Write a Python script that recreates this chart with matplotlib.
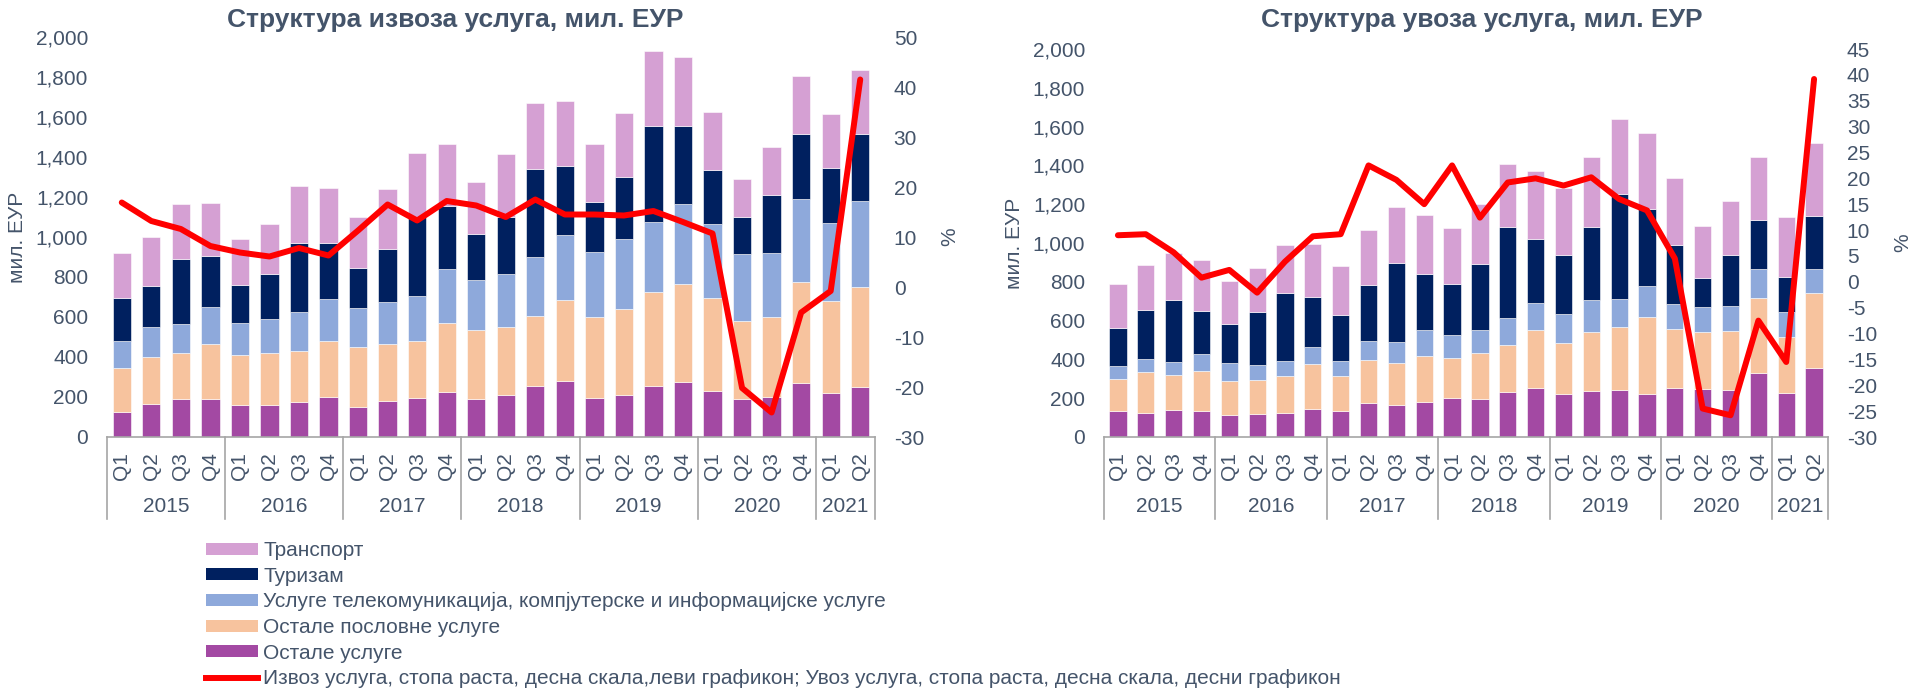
import matplotlib
matplotlib.use("Agg")
import matplotlib.pyplot as plt
from matplotlib.patches import Patch
from matplotlib.lines import Line2D
import matplotlib.transforms as mtransforms
import numpy as np

plt.rcParams['font.family'] = ['Liberation Sans', 'DejaVu Sans']

# ---------------- data ----------------
quarters = ['Q1', 'Q2', 'Q3', 'Q4'] * 6 + ['Q1', 'Q2']
years = ['2015', '2016', '2017', '2018', '2019', '2020', '2021']
year_counts = [4, 4, 4, 4, 4, 4, 2]

series_names = ['Транспорт', 'Туризам',
                'Услуге телекомуникација, компјутерске и информацијске услуге',
                'Остале пословне услуге', 'Остале услуге']
line_name = ('Извоз услуга, стопа раста, десна скала,леви графикон; '
             'Увоз услуга, стопа раста, десна скала, десни графикон')

# Export (left chart), mil. EUR
exp_other = [123, 163, 188, 192, 160, 160, 177, 198, 150, 180, 195, 225, 191,
             212, 253, 278, 195, 212, 257, 275, 228, 190, 198, 268, 218, 252]
exp_business = [222, 239, 232, 271, 252, 258, 251, 280, 298, 283, 285, 347, 342,
                338, 352, 407, 405, 430, 468, 490, 469, 388, 400, 505, 460, 496]
exp_ict = [135, 146, 145, 185, 160, 170, 199, 212, 197, 214, 223, 266, 253,
           263, 295, 325, 325, 350, 352, 398, 370, 335, 320, 415, 392, 434]
exp_tourism = [217, 205, 323, 257, 186, 225, 341, 278, 202, 261, 397, 317, 227,
               287, 438, 345, 252, 308, 480, 392, 270, 185, 294, 327, 277, 333]
exp_transport = [225, 245, 275, 267, 230, 250, 285, 279, 255, 300, 320, 308, 264,
                 313, 334, 323, 286, 320, 371, 345, 286, 194, 236, 288, 266, 318]
exp_growth = [16.9, 13.2, 11.6, 8.2, 6.9, 6.1, 7.8, 6.3, 11.3, 16.5, 13.3, 17.2, 16.3,
              14.0, 17.5, 14.5, 14.5, 14.3, 15.2, 13.0, 10.7, -20.2, -25.1, -5.1, -0.8, 41.5]

# Import (right chart), mil. EUR
imp_other = [133, 122, 139, 133, 114, 117, 122, 145, 133, 177, 164, 181, 201,
             196, 231, 251, 220, 238, 241, 224, 253, 246, 241, 330, 227, 355]
imp_business = [165, 214, 179, 208, 175, 177, 191, 232, 179, 219, 218, 236, 207,
                238, 241, 298, 265, 302, 325, 394, 305, 294, 305, 388, 289, 385]
imp_ict = [70, 65, 68, 89, 90, 78, 81, 88, 82, 98, 110, 137, 120,
           120, 143, 140, 150, 167, 145, 160, 127, 130, 129, 148, 128, 127]
imp_tourism = [193, 253, 318, 221, 204, 270, 348, 258, 233, 291, 403, 286, 260,
               336, 466, 333, 303, 375, 540, 398, 305, 148, 263, 253, 181, 272]
imp_transport = [227, 232, 246, 261, 223, 229, 246, 270, 254, 282, 289, 303, 289,
                 310, 327, 350, 343, 359, 389, 389, 346, 270, 279, 325, 308, 375]
imp_growth = [9.0, 9.2, 5.7, 0.8, 2.3, -2.1, 3.9, 8.8, 9.2, 22.5, 19.7, 15.0, 22.5,
              12.4, 19.2, 20.0, 18.6, 20.2, 16.0, 13.8, 4.5, -24.5, -25.8, -7.5, -15.5, 39.2]

# ---------------- style ----------------
C_TRANSPORT = '#D5A0D3'
C_TOURISM = '#00205F'
C_ICT = '#8EA9DB'
C_BUSINESS = '#F7C39E'
C_OTHER = '#A349A3'
C_LINE = '#FF0000'
TXT = '#44546A'
AXC = '#A6A6A6'
FS = 15

W, H = 1915, 692
fig = plt.figure(figsize=(W / 100, H / 100), dpi=100)


def draw(rect, stacks, growth, rlim, rstep, title, title_x):
    ax = fig.add_axes(rect)
    x = np.arange(len(quarters))
    bottom = np.zeros(len(quarters))
    colors = [C_OTHER, C_BUSINESS, C_ICT, C_TOURISM, C_TRANSPORT]
    for vals, col in zip(stacks, colors):
        v = np.array(vals, dtype=float)
        ax.bar(x, v, bottom=bottom, width=0.62, color=col, edgecolor='white',
               linewidth=0.4, zorder=2)
        bottom += v
    ax.set_xlim(-0.5, len(quarters) - 0.5)
    ax.set_ylim(0, 2000)
    ax.set_yticks(np.arange(0, 2001, 200))
    ax.set_yticklabels([f'{v:,}' for v in range(0, 2001, 200)])
    for s in ['top', 'left', 'right']:
        ax.spines[s].set_visible(False)
    ax.spines['bottom'].set_color(AXC)
    ax.spines['bottom'].set_linewidth(1.2)
    ax.tick_params(axis='y', length=0, pad=13.5, labelsize=FS, labelcolor=TXT)
    ax.set_xticks(x)
    ax.set_xticklabels(quarters, rotation=90, fontsize=FS, color=TXT)
    ax.tick_params(axis='x', length=0, pad=11)
    ax.set_ylabel('мил. ЕУР', fontsize=FS, color=TXT, labelpad=6)

    # year labels and separators
    hpx = rect[3] * H
    sep_y = -82 / hpx
    year_y = -69 / hpx
    trans = mtransforms.blended_transform_factory(ax.transData, ax.transAxes)
    start = 0
    edges = [-0.5]
    for yr, n in zip(years, year_counts):
        center = start + (n - 1) / 2
        ax.text(center, year_y, yr, transform=trans, ha='center', va='center',
                fontsize=FS, color=TXT)
        start += n
        edges.append(start - 0.5)
    for e in edges:
        ax.plot([e, e], [0, sep_y], transform=trans, color=AXC, lw=1.2,
                clip_on=False, zorder=1)

    ax2 = ax.twinx()
    ax2.plot(x, growth, color=C_LINE, lw=4.3, solid_capstyle='round',
             solid_joinstyle='round', zorder=5)
    ax2.set_ylim(*rlim)
    ax2.set_yticks(np.arange(rlim[0], rlim[1] + 0.1, rstep))
    ax2.set_yticklabels([f'{int(v)}' for v in np.arange(rlim[0], rlim[1] + 0.1, rstep)])
    for s in ['top', 'left', 'right', 'bottom']:
        ax2.spines[s].set_visible(False)
    ax2.tick_params(axis='y', length=0, pad=13.5, labelsize=FS, labelcolor=TXT)
    ax2.set_ylabel('%', fontsize=FS, color=TXT, labelpad=12)

    fig.text(title_x, 1 - 20 / H, title, ha='center', va='center',
             fontsize=19, fontweight='bold', color=TXT)
    return ax, ax2


left_rect = [107 / W, 1 - 437 / H, (875 - 107) / W, 400 / H]
right_rect = [1104 / W, 1 - 437 / H, (1828 - 1104) / W, 388 / H]

draw(left_rect, [exp_other, exp_business, exp_ict, exp_tourism, exp_transport],
     exp_growth, (-30, 50), 10, 'Структура извоза услуга, мил. ЕУР', 455 / W)
draw(right_rect, [imp_other, imp_business, imp_ict, imp_tourism, imp_transport],
     imp_growth, (-30, 45), 5, 'Структура увоза услуга, мил. ЕУР', 1482 / W)

handles = [Patch(facecolor=C_TRANSPORT), Patch(facecolor=C_TOURISM),
           Patch(facecolor=C_ICT), Patch(facecolor=C_BUSINESS),
           Patch(facecolor=C_OTHER), Line2D([0], [0], color=C_LINE, lw=4.3)]
leg = fig.legend(handles, series_names + [line_name], loc='upper left',
                 bbox_to_anchor=(206 / W, 1 - 541 / H), frameon=False,
                 fontsize=FS, handlelength=2.5, handleheight=0.5,
                 handletextpad=0.25, labelspacing=0.32, borderpad=0,
                 borderaxespad=0)
for t in leg.get_texts():
    t.set_color(TXT)

fig.savefig('out.png', dpi=100)
